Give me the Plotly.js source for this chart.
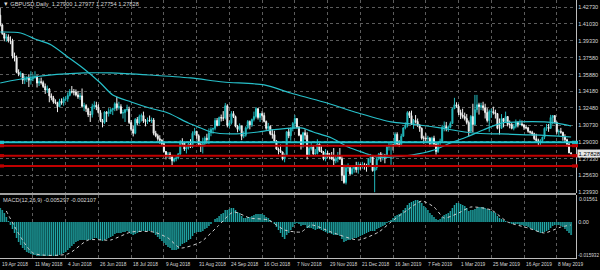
<!DOCTYPE html>
<html><head><meta charset="utf-8">
<script src="https://cdn.plot.ly/plotly-3.0.1.min.js"></script>
<style>html,body{margin:0;padding:0;background:#000;}#chart{width:600px;height:270px;}</style>
</head><body><div id="chart"></div>
<script>
const dateLabels = ['19 Apr 2018','11 May 2018','4 Jun 2018','26 Jun 2018','18 Jul 2018','9 Aug 2018','31 Aug 2018','24 Sep 2018','16 Oct 2018','7 Nov 2018','29 Nov 2018','21 Dec 2018','16 Jan 2019','7 Feb 2019','1 Mar 2019','25 Mar 2019','16 Apr 2019','8 May 2019'];
const dateLabelBars = [0,16,32,48,64,80,96,112,128,144,160,176,192,208,224,240,256,272];
const priceTicks = [1.4273,1.4103,1.3933,1.3758,1.3588,1.3418,1.3248,1.3073,1.2903,1.2733,1.2563,1.2393];

const openP = [
1.4190,1.4090,1.4005,1.3955,1.3970,1.3930,1.3930,1.3775,1.3760,1.3610,
1.3590,1.3595,1.3530,1.3540,1.3550,1.3530,1.3545,1.3555,1.3560,1.3500,
1.3515,1.3505,1.3465,1.3430,1.3440,1.3370,1.3350,1.3310,1.3300,1.3260,
1.3315,1.3300,1.3340,1.3340,1.3375,1.3415,1.3410,1.3410,1.3380,1.3360,
1.3370,1.3265,1.3270,1.3240,1.3180,1.3180,1.3260,1.3275,1.3255,1.3200,
1.3120,1.3100,1.3205,1.3190,1.3210,1.3230,1.3240,1.3290,1.3250,1.3260,
1.3195,1.3200,1.3230,1.3235,1.3100,1.3030,1.2990,1.3130,1.3095,1.3160,
1.3170,1.3115,1.3110,1.3125,1.3120,1.3125,1.2990,1.2965,1.2935,1.2920,
1.2885,1.2805,1.2760,1.2780,1.2755,1.2710,1.2730,1.2740,1.2780,1.2900,
1.2890,1.2830,1.2840,1.2880,1.2855,1.2990,1.3010,1.2965,1.2875,1.2860,
1.2885,1.2940,1.2925,1.2995,1.3030,1.3040,1.3120,1.3070,1.3150,1.3145,
1.3145,1.3270,1.3070,1.3095,1.3190,1.3160,1.3060,1.3030,1.3065,1.2960,
1.2970,1.3045,1.3110,1.3075,1.3130,1.3160,1.3240,1.3150,1.3190,1.3170,
1.3110,1.3040,1.3060,1.2985,1.2975,1.2910,1.2830,1.2815,1.2800,1.2730,
1.2770,1.3005,1.2965,1.3040,1.3090,1.3140,1.3055,1.2970,1.2855,1.2995,
1.2970,1.2770,1.2835,1.2850,1.2780,1.2785,1.2880,1.2815,1.2800,1.2730,
1.2790,1.2750,1.2750,1.2730,1.2710,1.2730,1.2760,1.2730,1.2560,1.2490,
1.2640,1.2640,1.2580,1.2630,1.2650,1.2620,1.2670,1.2650,1.2670,1.2660,
1.2660,1.2730,1.2750,1.2610,1.2640,1.2730,1.2780,1.2740,1.2765,1.2760,
1.2850,1.2870,1.2870,1.2865,1.2980,1.2880,1.2875,1.2960,1.3045,1.3070,
1.3200,1.3170,1.3080,1.3120,1.3110,1.3075,1.3040,1.2940,1.2940,1.2935,
1.2940,1.2885,1.2940,1.2880,1.2805,1.2895,1.2910,1.3050,1.3060,1.3040,
1.3050,1.3090,1.3240,1.3280,1.3265,1.3200,1.3175,1.3160,1.3140,1.3100,
1.3010,1.3160,1.3080,1.3230,1.3280,1.3260,1.3270,1.3250,1.3200,1.3120,
1.3210,1.3210,1.3200,1.3190,1.3040,1.3040,1.3140,1.3110,1.3160,1.3080,
1.3080,1.3040,1.3060,1.3100,1.3080,1.3085,1.3075,1.3050,1.3045,1.3010,
1.3000,1.2985,1.2935,1.2915,1.2895,1.2915,1.2950,1.3040,1.3050,1.3040,
1.3150,1.3170,1.3100,1.3005,1.3010,1.3000,1.2955,1.2925,1.2880,1.2790];

const highP = [
1.4262,1.4100,1.4010,1.4000,1.3995,1.3975,1.3950,1.3810,1.3780,1.3640,
1.3620,1.3600,1.3575,1.3570,1.3590,1.3620,1.3590,1.3620,1.3580,1.3550,
1.3555,1.3525,1.3495,1.3475,1.3450,1.3395,1.3370,1.3335,1.3310,1.3340,
1.3345,1.3360,1.3365,1.3405,1.3440,1.3470,1.3440,1.3435,1.3420,1.3400,
1.3445,1.3300,1.3285,1.3250,1.3215,1.3290,1.3315,1.3310,1.3285,1.3225,
1.3135,1.3215,1.3215,1.3245,1.3245,1.3250,1.3305,1.3360,1.3310,1.3285,
1.3230,1.3235,1.3280,1.3260,1.3125,1.3065,1.3145,1.3155,1.3180,1.3190,
1.3210,1.3135,1.3150,1.3170,1.3150,1.3145,1.3015,1.2985,1.2970,1.2930,
1.2895,1.2810,1.2800,1.2800,1.2770,1.2745,1.2760,1.2790,1.2920,1.2940,
1.2905,1.2860,1.2895,1.2930,1.3010,1.3045,1.3015,1.2980,1.2890,1.2945,
1.2960,1.2985,1.3040,1.3050,1.3045,1.3145,1.3145,1.3160,1.3180,1.3215,
1.3298,1.3285,1.3120,1.3215,1.3215,1.3170,1.3075,1.3090,1.3065,1.3010,
1.3060,1.3125,1.3120,1.3140,1.3210,1.3257,1.3245,1.3195,1.3215,1.3200,
1.3120,1.3095,1.3070,1.3030,1.3015,1.2920,1.2845,1.2875,1.2805,1.2785,
1.3010,1.3045,1.3050,1.3105,1.3175,1.3140,1.3060,1.2980,1.3005,1.3030,
1.3000,1.2860,1.2890,1.2870,1.2830,1.2930,1.2885,1.2860,1.2810,1.2830,
1.2810,1.2790,1.2800,1.2840,1.2760,1.2800,1.2840,1.2765,1.2670,1.2670,
1.2685,1.2650,1.2655,1.2665,1.2700,1.2700,1.2680,1.2700,1.2690,1.2680,
1.2735,1.2780,1.2770,1.2650,1.2745,1.2790,1.2800,1.2785,1.2780,1.2865,
1.2900,1.2890,1.2885,1.3000,1.3000,1.2920,1.2985,1.3050,1.3100,1.3215,
1.3215,1.3220,1.3135,1.3175,1.3140,1.3080,1.3050,1.2965,1.2990,1.2965,
1.2950,1.2955,1.2965,1.2890,1.2900,1.2935,1.3075,1.3110,1.3105,1.3070,
1.3110,1.3250,1.3350,1.3305,1.3285,1.3230,1.3240,1.3200,1.3185,1.3120,
1.3175,1.3290,1.3380,1.3380,1.3300,1.3300,1.3310,1.3290,1.3245,1.3230,
1.3240,1.3260,1.3230,1.3195,1.3140,1.3185,1.3145,1.3210,1.3165,1.3120,
1.3095,1.3085,1.3130,1.3110,1.3130,1.3120,1.3085,1.3075,1.3055,1.3015,
1.3015,1.2995,1.2985,1.2935,1.2930,1.2955,1.3050,1.3085,1.3085,1.3177,
1.3175,1.3170,1.3110,1.3030,1.3045,1.3005,1.2980,1.2935,1.2895,1.2798];

const lowP = [
1.4075,1.3990,1.3925,1.3920,1.3912,1.3895,1.3750,1.3720,1.3600,1.3570,
1.3560,1.3490,1.3490,1.3510,1.3460,1.3485,1.3520,1.3545,1.3455,1.3470,
1.3485,1.3450,1.3390,1.3400,1.3305,1.3325,1.3290,1.3285,1.3205,1.3255,
1.3280,1.3270,1.3315,1.3310,1.3365,1.3395,1.3375,1.3365,1.3340,1.3330,
1.3250,1.3215,1.3205,1.3155,1.3105,1.3150,1.3235,1.3225,1.3190,1.3105,
1.3050,1.3085,1.3105,1.3160,1.3185,1.3175,1.3215,1.3220,1.3230,1.3185,
1.3140,1.3105,1.3210,1.3085,1.3010,1.2958,1.2980,1.3070,1.3080,1.3110,
1.3095,1.3060,1.3085,1.3105,1.3095,1.2970,1.2950,1.2915,1.2885,1.2870,
1.2795,1.2725,1.2740,1.2725,1.2662,1.2695,1.2705,1.2725,1.2770,1.2865,
1.2810,1.2785,1.2825,1.2840,1.2840,1.2970,1.2935,1.2865,1.2800,1.2785,
1.2855,1.2885,1.2880,1.2960,1.2985,1.3020,1.3060,1.3065,1.3110,1.3115,
1.3130,1.3050,1.3045,1.3080,1.3145,1.3050,1.3000,1.3015,1.2920,1.2940,
1.2955,1.3030,1.3030,1.3055,1.3110,1.3140,1.3130,1.3105,1.3125,1.3100,
1.3025,1.3010,1.2970,1.2935,1.2900,1.2820,1.2775,1.2790,1.2715,1.2695,
1.2765,1.2940,1.2915,1.3010,1.3040,1.3040,1.2960,1.2825,1.2845,1.2925,
1.2725,1.2760,1.2815,1.2760,1.2760,1.2775,1.2800,1.2790,1.2715,1.2705,
1.2745,1.2725,1.2720,1.2660,1.2685,1.2695,1.2720,1.2505,1.2477,1.2470,
1.2600,1.2565,1.2570,1.2590,1.2590,1.2580,1.2620,1.2630,1.2620,1.2600,
1.2645,1.2690,1.2600,1.2391,1.2615,1.2715,1.2700,1.2715,1.2685,1.2755,
1.2815,1.2670,1.2815,1.2860,1.2860,1.2850,1.2860,1.2955,1.3030,1.3050,
1.3145,1.3075,1.3035,1.3090,1.3055,1.3005,1.2925,1.2885,1.2905,1.2900,
1.2855,1.2855,1.2855,1.2773,1.2790,1.2860,1.2895,1.3010,1.3010,1.3005,
1.3040,1.3085,1.3235,1.3250,1.3175,1.3135,1.3140,1.3120,1.3080,1.2960,
1.3000,1.3000,1.3070,1.3200,1.3180,1.3225,1.3220,1.3140,1.3100,1.3005,
1.3145,1.3180,1.3140,1.3030,1.2977,1.3035,1.3050,1.3100,1.3060,1.3040,
1.3030,1.3020,1.3040,1.3050,1.3070,1.3060,1.3025,1.3030,1.2995,1.2985,
1.2965,1.2920,1.2905,1.2865,1.2870,1.2890,1.2930,1.3015,1.3005,1.3035,
1.3080,1.3090,1.2985,1.2965,1.2985,1.2915,1.2890,1.2855,1.2790,1.2775];

const closeP = [
1.4090,1.4005,1.3955,1.3970,1.3930,1.3930,1.3775,1.3760,1.3610,1.3590,
1.3595,1.3530,1.3540,1.3550,1.3530,1.3545,1.3555,1.3560,1.3500,1.3515,
1.3505,1.3465,1.3430,1.3440,1.3370,1.3350,1.3310,1.3300,1.3260,1.3315,
1.3300,1.3340,1.3340,1.3375,1.3415,1.3410,1.3410,1.3380,1.3360,1.3370,
1.3265,1.3270,1.3240,1.3180,1.3180,1.3260,1.3275,1.3255,1.3200,1.3120,
1.3100,1.3205,1.3190,1.3210,1.3230,1.3240,1.3290,1.3250,1.3260,1.3195,
1.3200,1.3230,1.3235,1.3100,1.3030,1.2990,1.3130,1.3095,1.3160,1.3170,
1.3115,1.3110,1.3125,1.3120,1.3125,1.2990,1.2965,1.2935,1.2920,1.2885,
1.2805,1.2760,1.2780,1.2755,1.2710,1.2730,1.2740,1.2780,1.2900,1.2890,
1.2830,1.2840,1.2880,1.2855,1.2990,1.3010,1.2965,1.2875,1.2860,1.2885,
1.2940,1.2925,1.2995,1.3030,1.3040,1.3120,1.3070,1.3150,1.3145,1.3145,
1.3270,1.3070,1.3095,1.3190,1.3160,1.3060,1.3030,1.3065,1.2960,1.2970,
1.3045,1.3110,1.3075,1.3130,1.3160,1.3240,1.3150,1.3190,1.3170,1.3110,
1.3040,1.3060,1.2985,1.2975,1.2910,1.2830,1.2815,1.2800,1.2730,1.2770,
1.3005,1.2965,1.3040,1.3090,1.3140,1.3055,1.2970,1.2855,1.2995,1.2970,
1.2770,1.2835,1.2850,1.2780,1.2785,1.2880,1.2815,1.2800,1.2730,1.2790,
1.2750,1.2750,1.2730,1.2710,1.2730,1.2760,1.2730,1.2560,1.2490,1.2640,
1.2640,1.2580,1.2630,1.2650,1.2620,1.2670,1.2650,1.2670,1.2660,1.2660,
1.2730,1.2750,1.2610,1.2640,1.2730,1.2780,1.2740,1.2765,1.2760,1.2850,
1.2870,1.2870,1.2865,1.2980,1.2880,1.2875,1.2960,1.3045,1.3070,1.3200,
1.3170,1.3080,1.3120,1.3110,1.3075,1.3040,1.2940,1.2940,1.2935,1.2940,
1.2885,1.2940,1.2880,1.2805,1.2895,1.2910,1.3050,1.3060,1.3040,1.3050,
1.3090,1.3240,1.3280,1.3265,1.3200,1.3175,1.3160,1.3140,1.3100,1.3010,
1.3160,1.3080,1.3230,1.3280,1.3260,1.3270,1.3250,1.3200,1.3120,1.3210,
1.3210,1.3200,1.3190,1.3040,1.3040,1.3140,1.3110,1.3160,1.3080,1.3080,
1.3040,1.3060,1.3100,1.3080,1.3085,1.3075,1.3050,1.3045,1.3010,1.3000,
1.2985,1.2935,1.2915,1.2895,1.2915,1.2950,1.3040,1.3050,1.3040,1.3150,
1.3170,1.3100,1.3005,1.3010,1.3000,1.2955,1.2925,1.2880,1.2790,1.2783];

const fastMABars = [0,10,17,25,33,41,49,55,64,73,82,92,98,103,113,126,132,147,153,162,170,178,184,191,201,212,220,228,236,245,253,266,272,279];
const fastMAValues = [1.4019,1.4009,1.3948,1.3887,1.3765,1.3643,1.3501,1.3379,1.3308,1.3247,1.3196,1.3094,1.3044,1.3003,1.2983,1.3003,1.3023,1.3044,1.3003,1.2942,1.2851,1.2790,1.2749,1.2749,1.2769,1.2820,1.2891,1.2952,1.3023,1.3094,1.3105,1.3105,1.3094,1.3064];
const slowMABars = [0,16,41,54,73,93,109,129,142,158,175,191,201,215,231,245,261,279];
const slowMAValues = [1.3501,1.3562,1.3603,1.3603,1.3582,1.3552,1.3511,1.3481,1.3399,1.3308,1.3196,1.3105,1.3084,1.3044,1.2993,1.2983,1.2973,1.2952];

const levelPrices = [1.2898,1.2864,1.2762,1.2658];
const levelColors = ['#22c2cc','#c00000','#c00000','#c00000'];

const macdHist = [
0.007,0.006,0.0045,0.0025,0.0005,-0.0015,-0.0035,-0.0055,-0.008,-0.01,
-0.0115,-0.013,-0.014,-0.015,-0.0155,-0.016,-0.0165,-0.0165,-0.017,-0.017,
-0.017,-0.017,-0.017,-0.017,-0.017,-0.017,-0.017,-0.017,-0.017,-0.0165,
-0.016,-0.0155,-0.015,-0.014,-0.013,-0.012,-0.011,-0.01,-0.0095,-0.009,
-0.009,-0.009,-0.009,-0.009,-0.009,-0.0085,-0.008,-0.008,-0.0085,-0.009,
-0.0095,-0.009,-0.0085,-0.008,-0.0075,-0.007,-0.006,-0.0055,-0.0055,-0.0055,
-0.005,-0.005,-0.0045,-0.005,-0.006,-0.0065,-0.006,-0.0055,-0.005,-0.0045,
-0.0045,-0.0045,-0.0045,-0.0045,-0.0045,-0.0055,-0.0065,-0.0075,-0.0085,-0.0095,
-0.0105,-0.0115,-0.0125,-0.013,-0.014,-0.014,-0.014,-0.0135,-0.012,-0.011,
-0.0105,-0.01,-0.009,-0.0085,-0.007,-0.0055,-0.005,-0.005,-0.005,-0.0045,
-0.0035,-0.003,-0.002,-0.001,0,0.0015,0.002,0.003,0.004,0.0045,
0.006,0.006,0.0065,0.007,0.007,0.006,0.005,0.0045,0.003,0.002,
0.002,0.0025,0.0025,0.003,0.0035,0.004,0.004,0.004,0.004,0.0035,
0.0025,0.002,0.001,0,-0.001,-0.0025,-0.004,-0.0055,-0.0075,-0.0085,
-0.0065,-0.0055,-0.004,-0.0025,-0.001,-0.0005,-0.001,-0.002,-0.0015,-0.0015,
-0.003,-0.003,-0.003,-0.0035,-0.004,-0.0035,-0.0035,-0.004,-0.0045,-0.005,
-0.0055,-0.0055,-0.006,-0.0065,-0.0065,-0.0065,-0.007,-0.0085,-0.01,-0.0095,
-0.009,-0.009,-0.0085,-0.008,-0.008,-0.0075,-0.007,-0.0065,-0.006,-0.0055,
-0.005,-0.0045,-0.0045,-0.0045,-0.0035,-0.003,-0.0025,-0.002,-0.0015,-0.0005,
0.0005,0.001,0.002,0.003,0.0035,0.004,0.0045,0.006,0.007,0.0085,
0.0095,0.01,0.0105,0.011,0.011,0.0105,0.0095,0.008,0.007,0.006,
0.0045,0.0035,0.0025,0.0015,0.001,0.0015,0.0025,0.0035,0.004,0.0045,
0.0055,0.007,0.0085,0.0095,0.0095,0.009,0.0085,0.008,0.007,0.0055,
0.006,0.006,0.0065,0.007,0.0075,0.0075,0.0075,0.007,0.0065,0.006,
0.0055,0.005,0.0045,0.003,0.002,0.0015,0.001,0.0005,0,-0.0005,
-0.001,-0.001,-0.001,-0.001,-0.0015,-0.0015,-0.002,-0.002,-0.0025,-0.003,
-0.0035,-0.004,-0.0045,-0.005,-0.0055,-0.0055,-0.005,-0.0045,-0.004,-0.003,
-0.002,-0.0015,-0.0015,-0.0015,-0.002,-0.0025,-0.0035,-0.0045,-0.0055,-0.0065];

const signalBars = [3,16,33,43,54,64,75,82,88,98,106,114,122,131,139,147,152,163,175,185,191,199,206,212,217,224,230,240,248,258,266,274,279];
const signalValues = [0.0055,-0.0155,-0.016,-0.009,-0.009,-0.005,-0.005,-0.008,-0.013,-0.01,-0.0025,0.005,0.002,0.001,-0.004,-0.005,-0.0015,-0.0055,-0.009,-0.005,0,0.006,0.0105,0.0075,0.002,0.0045,0.0075,0.006,0,-0.003,-0.0055,-0.0025,-0.0015];

const headerText = '\u25BC GBPUSD,Daily  1.27900 1.27977 1.27754 1.27828';
const macdText = 'MACD(12,26,9) -0.005297 -0.002107';
const macdScaleLabels = ['0.01561','-0.015932'];
const lastPriceLabel = '1.27828';
const lastPrice = 1.27828;

// ---------- drawing ----------
const FONT = "'Liberation Sans',Arial,sans-serif";
const FS = 6;
const GRID = '#5c5c5c';
const TXT = '#d8d8d8';
const H = 270, PW = 576;
const py = v => 1 - v / H;          // pixel row -> paper y
const bars = closeP.map((_, i) => i);

const traces = [
  {type:'candlestick', x:bars, open:openP, high:highP, low:lowP, close:closeP,
   xaxis:'x', yaxis:'y',
   increasing:{line:{color:'#22b9bd',width:1}, fillcolor:'#22b9bd'},
   decreasing:{line:{color:'#f2f2f2',width:1}, fillcolor:'#f2f2f2'},
   whiskerwidth:0, hoverinfo:'skip'},
  {type:'scatter', mode:'lines', x:slowMABars, y:slowMAValues, xaxis:'x', yaxis:'y',
   line:{color:'#27c0ca', width:1.2, shape:'spline', smoothing:0.8}, hoverinfo:'skip'},
  {type:'scatter', mode:'lines', x:fastMABars, y:fastMAValues, xaxis:'x', yaxis:'y',
   line:{color:'#27c0ca', width:1.2, shape:'spline', smoothing:0.8}, hoverinfo:'skip'},
  {type:'bar', x:bars, y:macdHist, xaxis:'x2', yaxis:'y2', width:1,
   marker:{color:'#0b4b4b', line:{width:0}}, hoverinfo:'skip'},
  {type:'bar', x:bars, y:macdHist, xaxis:'x2', yaxis:'y2', width:0.5,
   marker:{color:'#22a8a8', line:{width:0}}, hoverinfo:'skip'},
  {type:'scatter', mode:'lines', x:signalBars, y:signalValues, xaxis:'x2', yaxis:'y2',
   line:{color:'#d0d0d0', width:1, dash:'dot', shape:'spline', smoothing:0.6}, hoverinfo:'skip'}
];

const shapes = [];
levelPrices.forEach((p, k) => {
  shapes.push({type:'line', xref:'paper', yref:'y', x0:0, x1:1, y0:p, y1:p,
               line:{color:levelColors[k], width:2}});
  shapes.push({type:'rect', xref:'paper', yref:'y', x0:0, x1:4/PW, y0:p-0.0016, y1:p+0.0016,
               fillcolor:levelColors[k], line:{width:0}});
  shapes.push({type:'rect', xref:'paper', yref:'y', x0:572/PW, x1:578/PW, y0:p-0.0016, y1:p+0.0016,
               fillcolor:levelColors[k], line:{width:0}});
});
shapes.push({type:'line', xref:'paper', yref:'paper', x0:0, x1:1, y0:py(194), y1:py(194),
             line:{color:'#a0a0a0', width:2}});

const txt = (o, size) => Object.assign({showarrow:false, font:{family:FONT, size:size || FS, color:TXT}}, o);
const annotations = [
  txt({xref:'paper', yref:'paper', x:0, y:py(4), xanchor:'left', yanchor:'middle', xshift:1, text:headerText, name:'hdr'}),
  txt({xref:'paper', yref:'paper', x:0, y:py(199.5), xanchor:'left', yanchor:'middle', xshift:1, text:macdText, name:'macd'}),
  txt({xref:'paper', yref:'paper', x:1, y:py(198.5), xanchor:'left', yanchor:'middle', xshift:1, text:macdScaleLabels[0], name:'scale'}),
  txt({xref:'paper', yref:'paper', x:1, y:py(254.7), xanchor:'left', yanchor:'middle', xshift:0, text:macdScaleLabels[1], name:'scale2'}, 5.2),
  {xref:'paper', yref:'y', x:1, y:lastPrice, xanchor:'left', yanchor:'middle', xshift:1,
   text:lastPriceLabel, showarrow:false, bgcolor:'#e6e6e6', borderpad:0.5, name:'box',
   font:{family:FONT, size:FS, color:'#000'}}
];
dateLabels.forEach((d, k) => {
  annotations.push(txt({xref:'x2', yref:'paper', x:dateLabelBars[k], y:py(263.5), xanchor:'left',
                        yanchor:'middle', xshift:(k === dateLabels.length - 1 ? -1 : 0), text:d, name:'date'}));
});

const layout = {
  width:600, height:270, margin:{l:0, r:24, t:0, b:0, pad:0},
  paper_bgcolor:'#000', plot_bgcolor:'#000', showlegend:false, barmode:'overlay',
  font:{family:FONT, size:FS, color:TXT},
  xaxis:{domain:[0,1], anchor:'y', range:[-0.1,281.4], tickvals:dateLabelBars, showticklabels:false,
         showgrid:true, gridcolor:GRID, griddash:'dot', gridwidth:1, zeroline:false, ticks:'',
         showline:false, rangeslider:{visible:false}, fixedrange:true},
  yaxis:{domain:[py(193),1], anchor:'x', range:[1.23832,1.43441], side:'right', tickvals:priceTicks,
         tickformat:'.5f', showgrid:true, gridcolor:GRID, griddash:'dot', gridwidth:1, zeroline:false,
         showline:true, linecolor:'#bdbdbd', linewidth:1, ticks:'', tickfont:{family:FONT, size:FS, color:TXT}},
  xaxis2:{domain:[0,1], anchor:'y2', range:[-0.1,281.4], tickvals:dateLabelBars, showticklabels:false,
          showgrid:true, gridcolor:GRID, griddash:'dot', gridwidth:1,
          zeroline:false, ticks:'', showline:true, linecolor:'#bdbdbd', linewidth:1},
  yaxis2:{domain:[py(258), py(195)], anchor:'x2', range:[-0.018,0.0135], side:'right', tickvals:[0],
          ticktext:['0.00'], showgrid:false, zeroline:false, showline:true, linecolor:'#bdbdbd',
          linewidth:1, ticks:'', tickfont:{family:FONT, size:FS, color:TXT}},
  shapes:shapes, annotations:annotations
};

// horizontal squeeze of small labels to mimic the terminal's narrow font,
// keeping each label's left edge where it was
function squeeze(nodes, f) {
  nodes.forEach(t => {
    const w = t.getComputedTextLength();
    if (!(w > 0)) return;
    const anchor = t.getAttribute('text-anchor') || getComputedStyle(t).textAnchor || 'start';
    t.setAttribute('textLength', (w * f).toFixed(2));
    t.setAttribute('lengthAdjust', 'spacingAndGlyphs');
    const x = parseFloat(t.getAttribute('x'));
    if (!isNaN(x)) {
      if (anchor === 'middle') t.setAttribute('x', (x - w / 2 + w * f / 2).toFixed(2));
      else if (anchor === 'end') t.setAttribute('x', (x - w + w * f).toFixed(2));
    }
  });
}
Plotly.newPlot('chart', traces, layout, {displayModeBar:false, staticPlot:true}).then(gd => {
  squeeze(gd.querySelectorAll('.ytick text, .y2tick text'), 0.92);
  gd.querySelectorAll('.annotation').forEach(g => {
    const a = layout.annotations[+g.getAttribute('data-index')];
    if (!a) return;
    const t = g.querySelectorAll('text');
    if (a.name === 'date') squeeze(t, 0.8);
    else if (a.name === 'hdr') squeeze(t, 0.95);
    else if (a.name === 'macd') squeeze(t, 0.94);
    else if (a.name === 'scale') squeeze(t, 0.86);
    else if (a.name === 'scale2') squeeze(t, 0.9);
  });
});
</script>
</body></html>
